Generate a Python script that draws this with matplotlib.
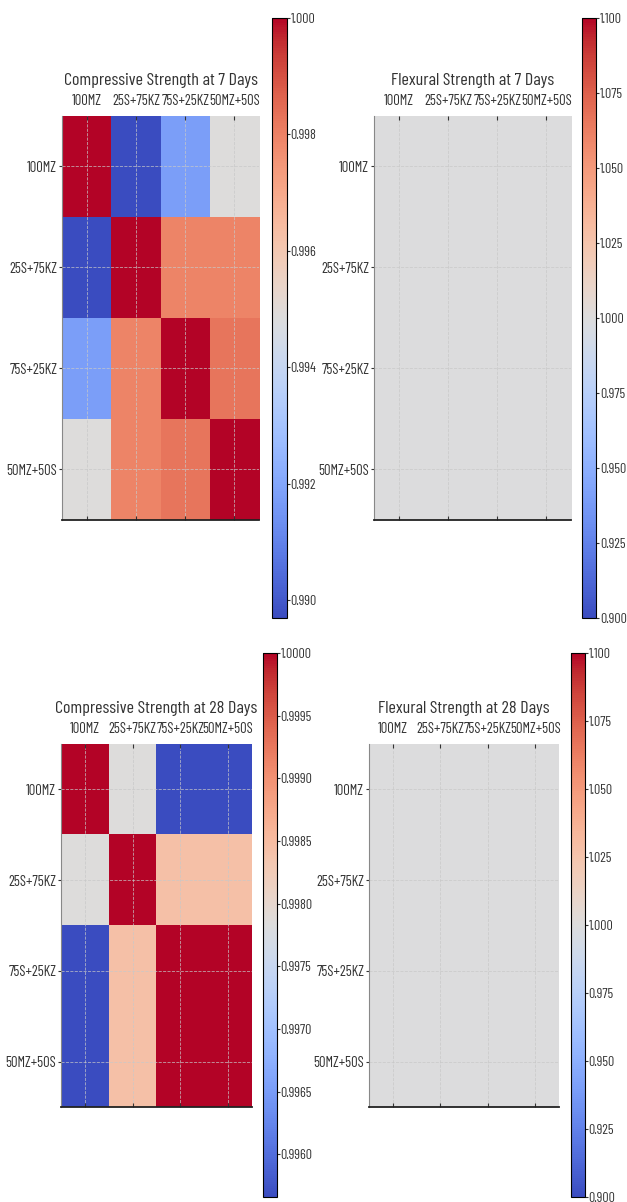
import numpy as np
import matplotlib
matplotlib.use("Agg")
import matplotlib.pyplot as plt
from matplotlib.ticker import MultipleLocator, FormatStrFormatter

plt.rcParams['font.family'] = ['Barlow Condensed', 'DejaVu Sans']
plt.rcParams['text.color'] = '#333333'
plt.rcParams['xtick.color'] = '#333333'
plt.rcParams['ytick.color'] = '#333333'

mixes = ['100MZ', '25S+75KZ', '75S+25KZ', '50MZ+50S']

# correlation matrices
comp_7 = [[1.0000, 0.98969, 0.99175, 0.99485],
          [0.98969, 1.0000, 0.99794, 0.99794],
          [0.99175, 0.99794, 1.0000, 0.99825],
          [0.99485, 0.99794, 0.99825, 1.0000]]
flex_7 = [[1.0, 1.0, 1.0, 1.0],
          [1.0, 1.0, 1.0, 1.0],
          [1.0, 1.0, 1.0, 1.0],
          [1.0, 1.0, 1.0, 1.0]]
comp_28 = [[1.0000, 0.99783, 0.99566, 0.99566],
           [0.99783, 1.0000, 0.99844, 0.99844],
           [0.99566, 0.99844, 1.0000, 0.99999],
           [0.99566, 0.99844, 0.99999, 1.0000]]
flex_28 = [[1.0, 1.0, 1.0, 1.0],
           [1.0, 1.0, 1.0, 1.0],
           [1.0, 1.0, 1.0, 1.0],
           [1.0, 1.0, 1.0, 1.0]]

titles = ['Compressive Strength at 7 Days', 'Flexural Strength at 7 Days',
          'Compressive Strength at 28 Days', 'Flexural Strength at 28 Days']

fig = plt.figure(figsize=(6.27, 12.02), dpi=100)

# [heatmap axes], [colorbar axes], tick step, format
panels = [
    (comp_7, [0.0989, 0.5674, 0.3142, 0.3361], [0.4338, 0.4859, 0.0239, 0.4992], 0.002, '%.3f'),
    (flex_7, [0.5965, 0.5674, 0.3142, 0.3361], [0.9282, 0.4859, 0.0230, 0.4992], 0.025, '%.3f'),
    (comp_28, [0.0973, 0.0790, 0.3046, 0.3020], [0.4195, 0.0042, 0.0223, 0.4526], 0.0005, '%.4f'),
    (flex_28, [0.5885, 0.0790, 0.3030, 0.3020], [0.9107, 0.0042, 0.0223, 0.4526], 0.025, '%.3f'),
]

for (data, pos, cpos, step, fmt), title in zip(panels, titles):
    m = np.array(data)
    vmin, vmax = m.min(), m.max()
    if vmin == vmax:
        vmin, vmax = vmin - 0.1, vmax + 0.1
    ax = fig.add_axes(pos)
    im = ax.matshow(m, cmap='coolwarm', vmin=vmin, vmax=vmax, aspect='auto')
    ax.set_xticks(range(len(mixes)))
    ax.set_yticks(range(len(mixes)))
    ax.set_xticklabels(mixes, fontsize=10.5)
    ax.set_yticklabels(mixes, fontsize=10.5)
    ax.tick_params(axis='x', direction='in', length=3, top=True, bottom=True, pad=6)
    ax.tick_params(axis='y', length=2, pad=1.5)
    ax.grid(True, color='#c8c8c8', linestyle='--', linewidth=0.6, alpha=0.8)
    for s in ['top', 'right']:
        ax.spines[s].set_visible(False)
    ax.spines['left'].set_color('#888888')
    ax.spines['left'].set_linewidth(0.8)
    ax.spines['bottom'].set_color('#222222')
    ax.spines['bottom'].set_linewidth(1.3)
    ax.set_title(title, fontsize=13, pad=6)

    cax = fig.add_axes(cpos)
    cb = fig.colorbar(im, cax=cax)
    cb.locator = MultipleLocator(step)
    cb.formatter = FormatStrFormatter(fmt)
    cb.update_ticks()
    cb.ax.tick_params(labelsize=10, length=2, pad=0.5)
    cb.outline.set_linewidth(0.8)

fig.savefig('out.png', dpi=100)
